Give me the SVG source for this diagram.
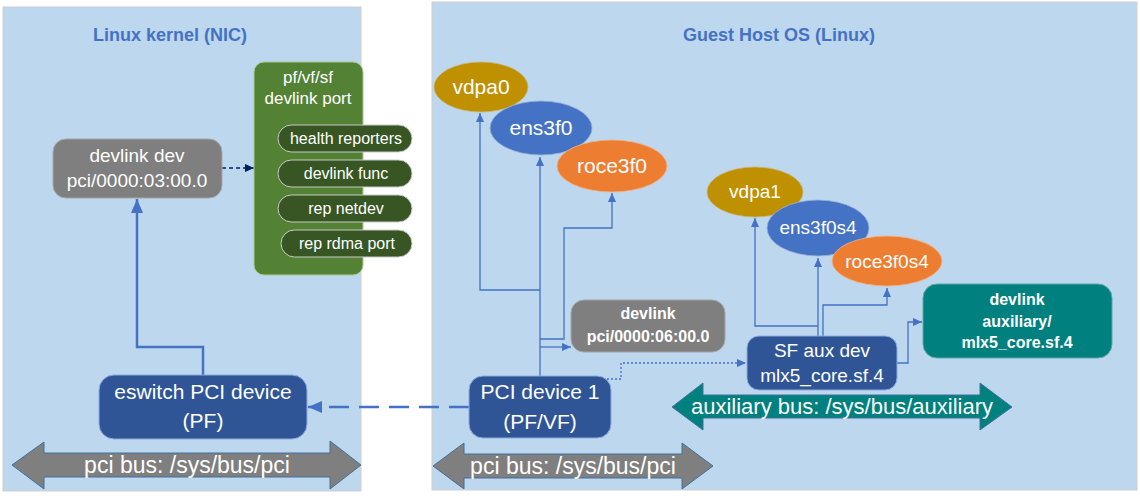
<svg xmlns="http://www.w3.org/2000/svg" width="1140" height="496" viewBox="0 0 1140 496">
<defs>
<style>
text{font-family:"Liberation Sans",Arial,sans-serif;fill:#fff;text-anchor:middle}
.title{font-weight:bold;font-size:18px;fill:#4472C4}
.panel{fill:#BDD7EE;stroke:#D0D0D0;stroke-width:1}
.gray{fill:#7F7F7F;stroke:#A6A6A6;stroke-width:1}
.navy{fill:#2F5597;stroke:#8FAADC;stroke-width:1}
.teal{fill:#00807F;stroke:#5FA8A6;stroke-width:1}
.pill{fill:#375623;stroke:#C9C9C9;stroke-width:1}
.ln{fill:none;stroke:#4472C4;stroke-width:1.3}
.b{font-weight:bold;font-size:16px}
</style>
<marker id="ah" markerUnits="userSpaceOnUse" markerWidth="10" markerHeight="10" refX="9" refY="4" orient="auto"><path d="M0,0 L9,4 L0,8 z" fill="#4472C4"/></marker>
<marker id="ahBig" markerUnits="userSpaceOnUse" markerWidth="16" markerHeight="14" refX="14" refY="6" orient="auto"><path d="M0,0 L14,6 L0,12 z" fill="#4472C4"/></marker>
<marker id="ahNavy" markerUnits="userSpaceOnUse" markerWidth="10" markerHeight="10" refX="9" refY="4" orient="auto"><path d="M0,0 L9,4 L0,8 z" fill="#002060"/></marker>
</defs>

<g id="panel-kernel">
<rect class="panel" x="3" y="7" width="358" height="484"/>
<text class="title" x="170" y="41">Linux kernel (NIC)</text>
</g>
<g id="panel-guest">
<rect class="panel" x="432" y="2" width="705" height="488"/>
<text class="title" x="779" y="41">Guest Host OS (Linux)</text>
</g>

<g id="pci-bus-left">
<path d="M12,465 L44,442 L44,453 L330,453 L330,441 L361,465 L330,489 L330,477 L44,477 L44,489 Z" fill="#7F7F7F" stroke="#41719C" stroke-width="1"/>
<text x="187" y="473" style="font-size:23px">pci bus: /sys/bus/pci</text>
</g>
<g id="pci-bus-right">
<path d="M433,466 L464,443 L464,454 L682,454 L682,443 L713,466 L682,489 L682,478 L464,478 L464,489 Z" fill="#7F7F7F" stroke="#41719C" stroke-width="1"/>
<text x="573" y="474" style="font-size:23px">pci bus: /sys/bus/pci</text>
</g>
<g id="aux-bus">
<path d="M672,407 L703,383 L703,395 L980,395 L980,383 L1012,407 L980,430 L980,418 L703,418 L703,430 Z" fill="#00807F" stroke="#41719C" stroke-width="1"/>
<text x="842" y="414" style="font-size:22px">auxiliary bus: /sys/bus/auxiliary</text>
</g>

<g id="connectors">
<path id="c-esw-devlink" d="M203,375 L203,347 L137,347 L137,199" fill="none" stroke="#4472C4" stroke-width="2.5" marker-end="url(#ahBig)"/>
<path id="c-devlink-port" d="M222,168 L254,168" fill="none" stroke="#002060" stroke-width="1.5" stroke-dasharray="4,3" marker-end="url(#ahNavy)"/>
<path id="c-pci1-esw" d="M469,407 L308,407" fill="none" stroke="#4472C4" stroke-width="2.5" stroke-dasharray="20,10" marker-end="url(#ahBig)"/>
<path id="c-pci1-ens" class="ln" d="M540,376 L540,157" marker-end="url(#ah)"/>
<path id="c-pci1-vdpa" class="ln" d="M540,290 L480,290 L480,113" marker-end="url(#ah)"/>
<path id="c-pci1-roce" class="ln" d="M540,339 L564,339 L564,228 L612,228 L612,193" marker-end="url(#ah)"/>
<path id="c-pci1-devlink" class="ln" d="M540,347 L571,347" marker-end="url(#ah)"/>
<path id="c-pci1-sf" class="ln" d="M607,379 L621,379 L621,363 L746,363" stroke-dasharray="2,2" marker-end="url(#ah)"/>
<path id="c-sf-ens" class="ln" d="M818,336 L818,258" marker-end="url(#ah)"/>
<path id="c-sf-vdpa" class="ln" d="M818,326 L755,326 L755,218" marker-end="url(#ah)"/>
<path id="c-sf-roce" class="ln" d="M823,336 L823,305 L887,305 L887,288" marker-end="url(#ah)"/>
<path id="c-sf-devlink" class="ln" d="M897,363 L908,363 L908,322 L922,322" marker-end="url(#ah)"/>
</g>

<g id="devlink-dev">
<rect class="gray" x="53" y="139" width="169" height="59" rx="13"/>
<text x="137" y="162" style="font-size:19px">devlink dev</text>
<text x="137" y="187" style="font-size:19px">pci/0000:03:00.0</text>
</g>

<g id="devlink-port">
<rect x="254" y="62" width="109" height="213" rx="10" fill="#548235" stroke="#A9C98F" stroke-width="1"/>
<text x="308" y="83" style="font-size:17px">pf/vf/sf</text>
<text x="308" y="104" style="font-size:17px">devlink port</text>
</g>
<g id="health-reporters">
<rect class="pill" x="278" y="125" width="134" height="27" rx="13.5"/>
<text x="346" y="144" style="font-size:16px">health reporters</text>
</g>
<g id="devlink-func">
<rect class="pill" x="278" y="160" width="134" height="27" rx="13.5"/>
<text x="346" y="179" style="font-size:16px">devlink func</text>
</g>
<g id="rep-netdev">
<rect class="pill" x="278" y="195" width="134" height="27" rx="13.5"/>
<text x="346" y="214" style="font-size:16px">rep netdev</text>
</g>
<g id="rep-rdma-port">
<rect class="pill" x="281" y="230" width="131" height="27" rx="13.5"/>
<text x="347" y="249" style="font-size:16px">rep rdma port</text>
</g>

<g id="eswitch-pci">
<rect class="navy" x="99" y="375" width="208" height="64" rx="15"/>
<text x="203" y="399" style="font-size:21px">eswitch PCI device</text>
<text x="203" y="428" style="font-size:21px">(PF)</text>
</g>

<g id="pci-device-1">
<rect class="navy" x="469" y="376" width="142" height="62" rx="14"/>
<text x="540" y="399" style="font-size:21px">PCI device 1</text>
<text x="540" y="429" style="font-size:21px">(PF/VF)</text>
</g>

<g id="devlink-pci-06">
<rect class="gray" x="571" y="300" width="154" height="52" rx="13"/>
<text class="b" x="648" y="319">devlink</text>
<text class="b" x="648" y="342">pci/0000:06:00.0</text>
</g>

<g id="vdpa0">
<ellipse cx="481" cy="87" rx="47" ry="25" fill="#BF9000" stroke="#C9B67A" stroke-width="0.8"/>
<text x="481" y="94" style="font-size:21px">vdpa0</text>
</g>
<g id="ens3f0">
<ellipse cx="541" cy="128" rx="51" ry="27" fill="#4472C4" stroke="#9DB4DC" stroke-width="0.8"/>
<text x="541" y="135" style="font-size:21px">ens3f0</text>
</g>
<g id="roce3f0">
<ellipse cx="612" cy="166" rx="55" ry="26" fill="#ED7D31" stroke="#F0B48A" stroke-width="0.8"/>
<text x="612" y="173" style="font-size:21px">roce3f0</text>
</g>

<g id="vdpa1">
<ellipse cx="755" cy="192" rx="48" ry="25" fill="#BF9000" stroke="#C9B67A" stroke-width="0.8"/>
<text x="755" y="198" style="font-size:19px">vdpa1</text>
</g>
<g id="ens3f0s4">
<ellipse cx="818" cy="228" rx="51" ry="28" fill="#4472C4" stroke="#9DB4DC" stroke-width="0.8"/>
<text x="818" y="234" style="font-size:19px">ens3f0s4</text>
</g>
<g id="roce3f0s4">
<ellipse cx="887" cy="261" rx="55" ry="25" fill="#ED7D31" stroke="#F0B48A" stroke-width="0.8"/>
<text x="887" y="268" style="font-size:19px">roce3f0s4</text>
</g>

<g id="sf-aux-dev">
<rect class="navy" x="747" y="336" width="150" height="54" rx="12"/>
<text x="822" y="357" style="font-size:19px">SF aux dev</text>
<text x="822" y="382" style="font-size:19px">mlx5_core.sf.4</text>
</g>

<g id="devlink-auxiliary">
<rect class="teal" x="923" y="284" width="189" height="74" rx="14"/>
<text class="b" x="1017" y="305">devlink</text>
<text class="b" x="1017" y="327">auxiliary/</text>
<text class="b" x="1017" y="348">mlx5_core.sf.4</text>
</g>
</svg>
